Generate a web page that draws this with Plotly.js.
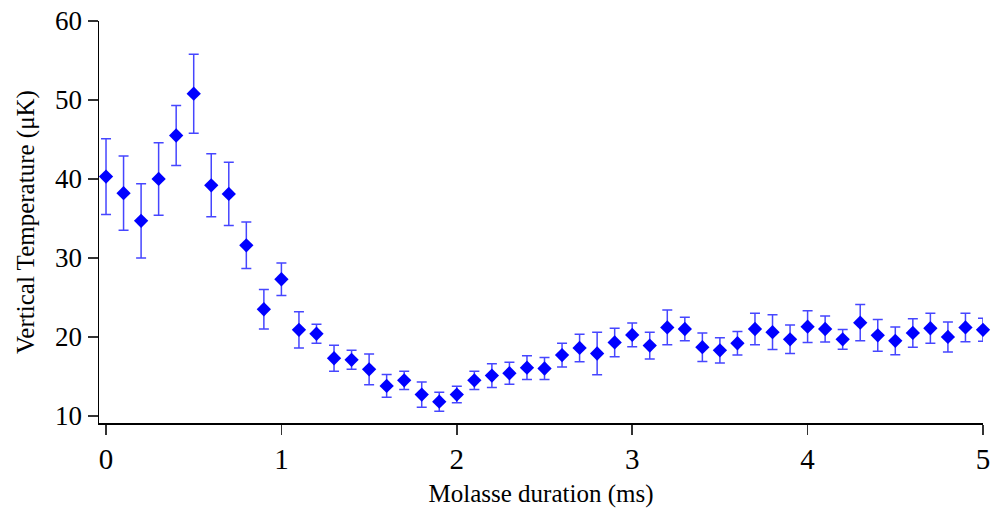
<!DOCTYPE html>
<html>
<head>
<meta charset="utf-8">
<script src="https://cdn.plot.ly/plotly-3.0.1.min.js"></script>
<style>html,body{margin:0;padding:0;background:#fff;}#chart{width:994px;height:508px;}</style>
</head>
<body>
<div id="chart"></div>
<script>
const duration = [0,0.1,0.2,0.3,0.4,0.5,0.6,0.7,0.8,0.9,1.0,1.1,1.2,1.3,1.4,1.5,1.6,1.7,1.8,1.9,2.0,2.1,2.2,2.3,2.4,2.5,2.6,2.7,2.8,2.9,3.0,3.1,3.2,3.3,3.4,3.5,3.6,3.7,3.8,3.9,4.0,4.1,4.2,4.3,4.4,4.5,4.6,4.7,4.8,4.9,5.0];
const temperature = [40.3,38.2,34.7,40.0,45.5,50.8,39.2,38.1,31.6,23.5,27.3,20.9,20.4,17.3,17.1,15.9,13.8,14.5,12.7,11.8,12.7,14.5,15.1,15.4,16.1,16.0,17.7,18.6,17.9,19.3,20.25,18.9,21.2,21.0,18.7,18.3,19.2,21.0,20.6,19.7,21.3,21.0,19.7,21.8,20.2,19.5,20.5,21.1,20.0,21.2,20.9];
const error = [4.8,4.7,4.7,4.6,3.8,5.0,4.0,4.0,2.95,2.5,2.05,2.3,1.2,1.65,1.2,1.95,1.45,1.15,1.6,1.2,1.05,1.15,1.5,1.4,1.5,1.4,1.5,1.75,2.7,1.8,1.5,1.7,2.2,1.5,1.8,1.6,1.5,2.0,2.2,1.8,2.0,1.65,1.25,2.3,2.0,1.75,1.8,1.9,1.9,1.8,1.45];
const xTicks = [0,1,2,3,4,5];
const yTicks = [10,20,30,40,50,60];

const font = 'Liberation Serif, Times New Roman, serif';
const trace = {
  x: duration, y: temperature, type: 'scatter', mode: 'markers',
  marker: {symbol: 'diamond', size: 11, color: '#0000ff'},
  error_y: {type: 'data', array: error, visible: true, color: 'rgb(70,70,255)', thickness: 1.5, width: 5},
  cliponaxis: false
};
const layout = {
  width: 994, height: 508,
  margin: {l: 99, r: 11, t: 21, b: 85},
  paper_bgcolor: '#fff', plot_bgcolor: '#fff',
  showlegend: false,
  xaxis: {
    range: [-0.04, 5], tickvals: xTicks, ticktext: xTicks.map(String),
    showgrid: false, zeroline: false, showline: true, linecolor: '#000', linewidth: 1.5,
    ticks: 'outside', ticklen: 10, tickwidth: 1.5, tickcolor: '#333',
    tickfont: {family: font, size: 29, color: '#000'},
    title: {text: 'Molasse duration (ms)', font: {family: font, size: 25, color: '#000'}, standoff: 10}
  },
  yaxis: {
    range: [9.1, 60], tickvals: yTicks, ticktext: yTicks.map(String),
    showgrid: false, zeroline: false, showline: true, linecolor: '#000', linewidth: 1.5,
    ticks: 'outside', ticklen: 10, tickwidth: 1.5, tickcolor: '#333',
    tickfont: {family: font, size: 27, color: '#000'},
    title: {text: 'Vertical Temperature (μK)', font: {family: font, size: 25, color: '#000'}, standoff: 13}
  }
};
Plotly.newPlot('chart', [trace], layout, {displayModeBar: false, staticPlot: true});
</script>
</body>
</html>
